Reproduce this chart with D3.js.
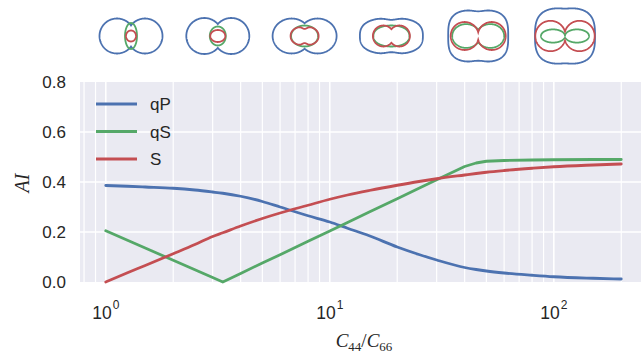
<!DOCTYPE html>
<html>
<head>
<meta charset="utf-8">
<script src="https://cdn.jsdelivr.net/npm/d3@7"></script>
<style>
  body { margin: 0; background: #fff; }
  svg { display: block; font-family: "Liberation Sans", Arial, sans-serif; }
</style>
</head>
<body>
<svg id="chart" width="641" height="355"></svg>
<script>
// stiffness ratio C44/C66 and anisotropy index of the three waves
const ratio = [1, 1.25, 1.5, 2, 2.5, 3, 3.33, 4, 5, 6, 8, 10, 12, 15, 20, 25, 30, 40, 45, 50, 60, 80, 100, 150, 200];
const qP = [0.386, 0.383, 0.380, 0.375, 0.368, 0.360, 0.355, 0.343, 0.322, 0.300, 0.265, 0.240, 0.215, 0.185, 0.140, 0.110, 0.088, 0.058, 0.050, 0.044, 0.036, 0.027, 0.021, 0.015, 0.012];
const qS = [0.205, 0.167, 0.136, 0.087, 0.049, 0.018, 0.000, 0.034, 0.076, 0.109, 0.163, 0.204, 0.238, 0.280, 0.333, 0.375, 0.409, 0.462, 0.476, 0.483, 0.486, 0.488, 0.489, 0.490, 0.490];
const S  = [0.000, 0.037, 0.066, 0.113, 0.150, 0.182, 0.197, 0.224, 0.254, 0.276, 0.307, 0.331, 0.348, 0.366, 0.387, 0.402, 0.413, 0.428, 0.434, 0.439, 0.446, 0.455, 0.461, 0.468, 0.472];

const seriesNames = ['qP', 'qS', 'S'];
const yTicks = [0, 0.2, 0.4, 0.6, 0.8];
const xMajor = [1, 10, 100];

// wave surface glyphs above the plot (one entry per inset)
// peanut: [d, R, ky], squircle: [a, b, p, dip]
const blueShapes = [
  {type: 'peanut', d: 14, R: 17.5, ky: 1},
  {type: 'peanut', d: 13.5, R: 18, ky: 1},
  {type: 'peanut', d: 13, R: 19, ky: 0.92},
  {type: 'squircle', a: 31.5, b: 18, p: 2.6, w: 0.1},
  {type: 'squircle', a: 30, b: 26, p: 3.2, w: 0.05},
  {type: 'squircle', a: 30, b: 28, p: 3.0, w: 0.02}
];
const greenShapes = [
  {type: 'squircle', a: 6, b: 13, p: 2, w: 0},
  {type: 'squircle', a: 8, b: 9.5, p: 2, w: 0},
  {type: 'squircle', a: 13.5, b: 10.5, p: 2, w: 0},
  {type: 'squircle', a: 18, b: 10.5, p: 2.2, w: 0},
  {type: 'peanut', d: 12, R: 14, ky: 0.85},
  {type: 'peanut', d: 12, R: 12, ky: 0.55}
];
const redShapes = [
  {type: 'squircle', a: 5, b: 5.5, p: 2, w: 0},
  {type: 'squircle', a: 7.5, b: 6, p: 2, w: 0},
  {type: 'squircle', a: 14, b: 9.5, p: 2.2, w: 0.25},
  {type: 'peanut', d: 8, R: 10.5, ky: 1},
  {type: 'peanut', d: 13.5, R: 14, ky: 1},
  {type: 'peanut', d: 14.5, R: 15.2, ky: 1}
];

const colors = {qP: '#4C72B0', qS: '#55A868', S: '#C44E52'};
const svg = d3.select('#chart');

const margin = {top: 82, left: 80, bottom: 73};
const height = 355;

const xScale = d3.scaleLog()
    .domain([Math.pow(10, -0.115), Math.pow(10, 2.416)])
    .range([margin.left, 647]);

const yScale = d3.scaleLinear()
    .domain([0, 0.8])
    .range([height - margin.bottom, margin.top]);

// background
svg.append('rect')
    .attr('x', margin.left)
    .attr('y', margin.top)
    .attr('width', 647 - margin.left)
    .attr('height', yScale(0) - yScale(0.8))
    .attr('fill', '#EAEAF2');

// grid lines (major + minor on log axis)
const xGrid = [];
[0.1, 1, 10, 100].forEach(dec => {
    for (let k = 1; k < 10; k++) {
        const v = dec * k;
        if (v >= xScale.domain()[0] && v <= xScale.domain()[1]) xGrid.push(v);
    }
});

svg.append('g')
    .selectAll('line')
    .data(xGrid)
    .join('line')
    .attr('x1', d => xScale(d)).attr('x2', d => xScale(d))
    .attr('y1', yScale(0)).attr('y2', yScale(0.8))
    .attr('stroke', '#fff')
    .attr('stroke-width', d => xMajor.includes(d) ? 1.6 : 1.2);

svg.append('g')
    .selectAll('line')
    .data(yTicks.slice(1, -1))
    .join('line')
    .attr('x1', margin.left).attr('x2', 647)
    .attr('y1', d => yScale(d)).attr('y2', d => yScale(d))
    .attr('stroke', '#fff')
    .attr('stroke-width', 1.6);

// y tick labels
svg.append('g')
    .selectAll('text')
    .data(yTicks)
    .join('text')
    .attr('x', 66)
    .attr('y', d => yScale(d) + 6)
    .attr('text-anchor', 'end')
    .attr('font-size', 17)
    .attr('fill', '#262626')
    .text(d => d.toFixed(1));

// x tick labels 10^n
const xLabels = svg.append('g')
    .selectAll('text')
    .data(xMajor)
    .join('text')
    .attr('x', d => xScale(d))
    .attr('y', 319)
    .attr('text-anchor', 'middle')
    .attr('font-size', 17.5)
    .attr('fill', '#262626');
xLabels.append('tspan').text('10');
xLabels.append('tspan')
    .attr('dy', -10)
    .attr('dx', 1)
    .attr('font-size', 12)
    .text(d => Math.round(Math.log10(d)));

// axis titles
const xTitle = svg.append('text')
    .attr('x', 364)
    .attr('y', 347)
    .attr('text-anchor', 'middle')
    .attr('font-family', '"Liberation Serif", "Times New Roman", serif')
    .attr('font-style', 'italic')
    .attr('font-size', 19)
    .attr('fill', '#262626');
xTitle.append('tspan').text('C');
xTitle.append('tspan').attr('dy', 4).attr('font-size', 13).attr('font-style', 'normal').text('44');
xTitle.append('tspan').attr('dy', -4).attr('font-style', 'normal').text('/');
xTitle.append('tspan').text('C');
xTitle.append('tspan').attr('dy', 4).attr('font-size', 13).attr('font-style', 'normal').text('66');

svg.append('text')
    .attr('transform', 'translate(29,183) rotate(-90)')
    .attr('text-anchor', 'middle')
    .attr('font-family', '"Liberation Serif", "Times New Roman", serif')
    .attr('font-style', 'italic')
    .attr('font-size', 20)
    .attr('fill', '#262626')
    .text('AI');

// curves
const seriesData = {qP: qP, qS: qS, S: S};

seriesNames.forEach(name => {
    const line = d3.line()
        .x((d, i) => xScale(ratio[i]))
        .y(d => yScale(d))
        .curve(name == 'qS' ? d3.curveLinear : d3.curveMonotoneX);

    svg.append('path')
        .attr('d', line(seriesData[name]))
        .attr('fill', 'none')
        .attr('stroke', colors[name])
        .attr('stroke-width', 2.8)
        .attr('stroke-linejoin', 'round')
        .attr('stroke-linecap', 'round');
});

// legend
const legend = svg.append('g')
    .selectAll('g')
    .data(seriesNames)
    .join('g')
    .attr('transform', (d, i) => `translate(96,${104 + i * 27.5})`);

legend.append('line')
    .attr('x1', 0).attr('x2', 41)
    .attr('stroke', d => colors[d])
    .attr('stroke-width', 3);

legend.append('text')
    .attr('x', 54)
    .attr('y', 6)
    .attr('font-size', 17)
    .attr('fill', '#262626')
    .text(d => d);

// wave surface insets
const insetX = d3.scalePoint().domain(d3.range(6)).range([131, 565]);

function shapePoints(s) {
    const pts = [];
    for (let i = 0; i <= 360; i++) {
        const t = i / 360 * 2 * Math.PI;
        const c = Math.cos(t), sn = Math.sin(t);
        if (s.type == 'peanut') {
            const r = s.d * Math.abs(c) + Math.sqrt(Math.max(0, s.R * s.R - s.d * s.d * sn * sn));
            pts.push([r * c, r * sn * s.ky]);
        } else {
            const x = s.a * Math.sign(c) * Math.pow(Math.abs(c), 2 / s.p);
            const dip = 1 - s.w * Math.exp(-Math.pow(x / s.a, 2) / (2 * 0.18 * 0.18));
            const y = s.b * Math.sign(sn) * Math.pow(Math.abs(sn), 2 / s.p) * dip;
            pts.push([x, y]);
        }
    }
    return pts;
}

const glyphLine = d3.line().curve(d3.curveLinearClosed);

[[blueShapes, colors.qP], [greenShapes, colors.qS], [redShapes, colors.S]].forEach(([shapes, col]) => {
    svg.append('g')
        .selectAll('path')
        .data(shapes)
        .join('path')
        .attr('transform', (d, i) => `translate(${insetX(i)},36)`)
        .attr('d', d => glyphLine(shapePoints(d)))
        .attr('fill', 'none')
        .attr('stroke', col)
        .attr('stroke-width', 1.8);
});
</script>
</body>
</html>
